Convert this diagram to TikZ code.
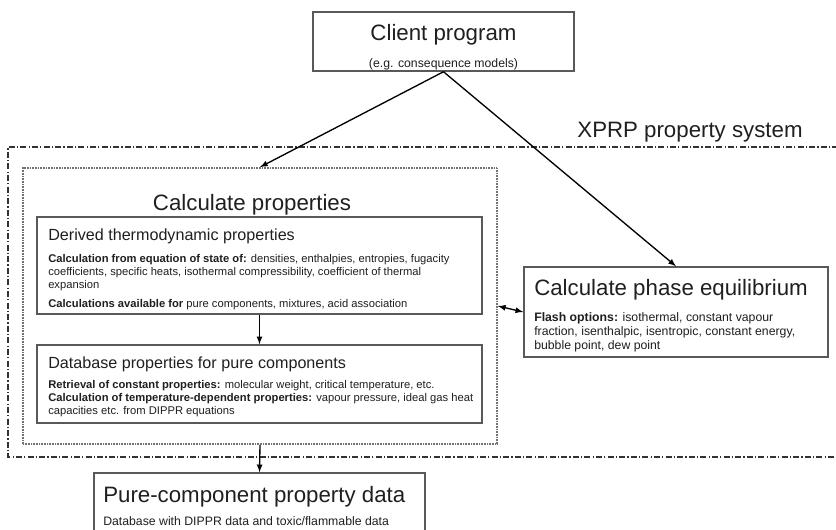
\documentclass[tikz,border=0pt]{standalone}
\usepackage{fontspec}
\setmainfont{Liberation Sans}
\usetikzlibrary{arrows, fit}

\begin{document}
\begin{tikzpicture}[x=0.75pt, y=-0.75pt, >=latex,
        box/.style={draw=black!65, line width=1.1pt, inner sep=0pt},
        outerbox/.style={draw=black!55, line width=1.3pt, dash pattern=on 0.8pt off 0.4pt, inner sep=0pt},
        frame/.style={draw=black!80, line width=0.9pt, dash pattern=on 4.5pt off 1.6pt on 1pt off 1.6pt},
        link/.style={->, line width=1pt, black},
        bigtitle/.style={inner sep=0pt, text=black!88, font=\fontsize{16.7}{20}\selectfont},
        midtitle/.style={inner sep=0pt, anchor=base west, text=black!88, font=\fontsize{12.1}{14.5}\selectfont},
        innertext/.style={inner sep=0pt, anchor=base west, align=left, text=black!88, font=\fontsize{8.4}{9.75}\selectfont},
        outertext/.style={inner sep=0pt, align=left, text=black!88, font=\fontsize{9.2}{10.5}\selectfont}]
                \useasboundingbox (0,0) rectangle (836,529);
                \fill[white] (0,0) rectangle (836,529);
                \clip (0,0) rectangle (836,529);

                \draw[frame] (850,147) -- (8,147) -- (8,457) -- (850,457);
                \node[bigtitle, anchor=base] (xprp) at (690,137) {XPRP property system};

                \node[box, fit={(313,12) (574,71)}] (client) {};
                \node[bigtitle, anchor=base] (clienttitle) at (443.5,40) {Client program};
                \node[outertext, anchor=base] (clientnote) at (443.5,67) {(e.g. consequence models)};

                \node[outerbox, fit={(23,168) (497,444)}] (calc) {};
                \node[bigtitle, anchor=base] (calctitle) at (252,210) {Calculate properties};

                \node[box, fit={(37,217) (482,314)}] (derived) {};
                \node[midtitle] (derivedtitle) at (48,240) {Derived thermodynamic properties};
                \node[innertext] (derivedtext) at (48,307) {\textbf{Calculation from equation of state of:} densities, enthalpies, entropies, fugacity\\coefficients, specific heats, isothermal compressibility, coefficient of thermal\\expansion\\[4.5pt]\textbf{Calculations available for} pure components, mixtures, acid association};

                \node[box, fit={(37,345) (482,423)}] (database) {};
                \node[midtitle] (databasetitle) at (48,368) {Database properties for pure components};
                \node[innertext] (databasetext) at (48,414) {\textbf{Retrieval of constant properties:} molecular weight, critical temperature, etc.\\\textbf{Calculation of temperature-dependent properties:} vapour pressure, ideal gas heat\\capacities etc. from DIPPR equations};

                \node[box, fit={(524,267) (828,357)}] (phase) {};
                \node[bigtitle, anchor=base west] (phasetitle) at (534,295) {Calculate phase equilibrium};
                \node[outertext, anchor=base west] (phasetext) at (534,349.5) {\textbf{Flash options:} isothermal, constant vapour\\fraction, isenthalpic, isentropic, constant energy,\\bubble point, dew point};

                \node[box, fit={(94,473) (425,548)}] (pure) {};
                \node[bigtitle, anchor=base west] (puretitle) at (103,502) {Pure-component property data};
                \node[outertext, anchor=base west] (puretext) at (103,525) {Database with DIPPR data and toxic/flammable data};

                \draw[link] (client.south) -- (calc.north);
                \draw[link] (client.south) -- (phase.north);
                \draw[link] (derived.south) -- (database.north);
                \draw[link] (calc.south) -- (pure.north);
                \draw[link, <->] (calc.east) -- (phase.west);
            \end{tikzpicture}
\end{document}
